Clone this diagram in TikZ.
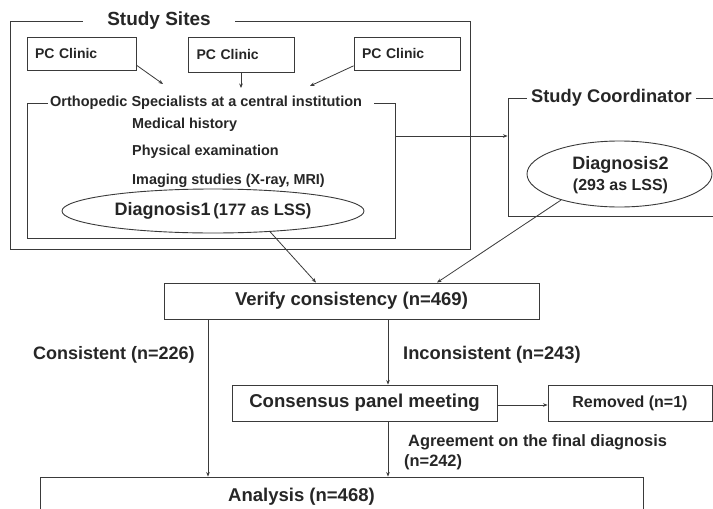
\documentclass[tikz,border=0pt]{standalone}
\usepackage{fontspec}
\setmainfont{Liberation Sans}
\usetikzlibrary{arrows.meta,shapes.geometric,calc}
\definecolor{linec}{HTML}{3A3A3A}
\definecolor{textc}{HTML}{262626}
\begin{document}
\begin{tikzpicture}[x=1pt,y=-1pt,
  box/.style={draw=linec, line width=0.9pt, rectangle, inner sep=0pt},
  oval/.style={draw=linec, line width=0.9pt, ellipse, inner sep=0pt, text=textc},
  arr/.style={draw=linec, line width=0.8pt, -{Stealth[length=4.5pt,width=3.6pt]}},
  txt/.style={text=textc, inner sep=0pt},
  titlebox/.style={fill=white, text=textc, inner ysep=1pt},
  fs/.style={font=\fontsize{#1}{#1}\selectfont\bfseries}
]
\useasboundingbox (0,0) rectangle (713,509);
\fill[white] (0,0) rectangle (713,509);
\clip (0,0) rectangle (713,509);

% Study Sites
\node[box, minimum width=460pt, minimum height=228pt] (sites) at (240,135) {};
\node[titlebox, fs=19, inner xsep=24pt] (sitesT) at (159,21) {Study Sites};

% PC clinics
\node[box, fs=14, text=textc, minimum width=109pt, minimum height=33pt, text width=93pt, inner xsep=8pt, align=left] (pc1) at (81.5,53.5) {PC Clinic};
\node[box, fs=14, text=textc, minimum width=106pt, minimum height=35pt, text width=89pt, inner xsep=8.5pt, align=left] (pc2) at (241,54.5) {PC Clinic};
\node[box, fs=14, text=textc, minimum width=106pt, minimum height=33pt, text width=90pt, inner xsep=8pt, align=left] (pc3) at (407,53.5) {PC Clinic};
\coordinate (t1) at (163,84);
\coordinate (t2) at (241,88);
\coordinate (t3) at (310,86);
\draw[arr] (pc1.-12) -- (t1);
\draw[arr] (pc2.south) -- (t2);
\draw[arr] (pc3.193) -- (t3);

% Orthopedic specialists
\node[box, minimum width=368pt, minimum height=135pt] (ortho) at (211,170.5) {};
\node[titlebox, fs=14.5, anchor=west, inner xsep=2pt] (orthoT) at (48,103) {Orthopedic Specialists at a central institution\hspace*{10pt}};
\node[txt, fs=14.4, anchor=west] (mh) at (132,125) {Medical history};
\node[txt, fs=14.4, anchor=west] (pe) at (132,152) {Physical examination};
\node[txt, fs=14.4, anchor=west] (im) at (132,181) {Imaging studies (X-ray, MRI)};
\node[oval, minimum width=302pt, minimum height=44pt] (d1) at (213,211)
  {{\fontsize{18}{18}\selectfont\bfseries Diagnosis1} {\fontsize{16.5}{16.5}\selectfont\bfseries (177 as LSS)}};

% Study Coordinator
\node[box, minimum width=208pt, minimum height=118pt] (coord) at (612,157) {};
\node[titlebox, fs=18.3, inner xsep=4pt] (coordT) at (611.5,98) {Study Coordinator};
\node[oval, minimum width=185pt, minimum height=66pt] (d2) at (619.5,174) {};
\node[txt, fs=18] (d2a) at (620.5,165) {Diagnosis2};
\node[txt, fs=16] (d2b) at (620.5,186) {(293 as LSS)};
\coordinate (h) at (450,136);
\draw[arr] (ortho.east |- h) -- (coord.west |- h);

% Verify
\node[box, fs=18.5, text=textc, minimum width=375pt, minimum height=36pt] (verify) at (351.5,301) {Verify consistency (n=469)};
\draw[arr] (d1.-20) -- ($(verify.north)+(-35.5,0)$);
\draw[arr] (d2.204) -- ($(verify.north)+(85.5,0)$);

% Lower part
\node[box, fs=18.6, text=textc, minimum width=265pt, minimum height=36pt] (cons) at (364.5,403) {Consensus panel meeting};
\node[box, fs=16, text=textc, minimum width=164pt, minimum height=36pt] (rem) at (630,403) {Removed (n=1)};
\node[box, minimum width=603pt, minimum height=43pt] (ana) at (341.5,498.5) {};
\node[txt, fs=18.5] (anaT) at (301.5,497) {Analysis (n=468)};

\coordinate (cx) at (208,0);
\coordinate (ix) at (388,0);
\coordinate (rx) at (0,405);
\draw[arr] (verify.south -| cx) -- (ana.north -| cx);
\draw[arr] (verify.south -| ix) -- (cons.north -| ix);
\draw[arr] (cons.east |- rx) -- (rem.west |- rx);
\draw[arr] (cons.south -| ix) -- (ana.north -| ix);

\node[txt, fs=18, anchor=west] (lc) at (33,355) {Consistent (n=226)};
\node[txt, fs=18.3, anchor=west] (li) at (403,355) {Inconsistent (n=243)};
\node[txt, fs=16.4, anchor=west] (la1) at (408,442) {Agreement on the final diagnosis};
\node[txt, fs=16.4, anchor=west] (la2) at (404,462) {(n=242)};
\end{tikzpicture}
\end{document}
